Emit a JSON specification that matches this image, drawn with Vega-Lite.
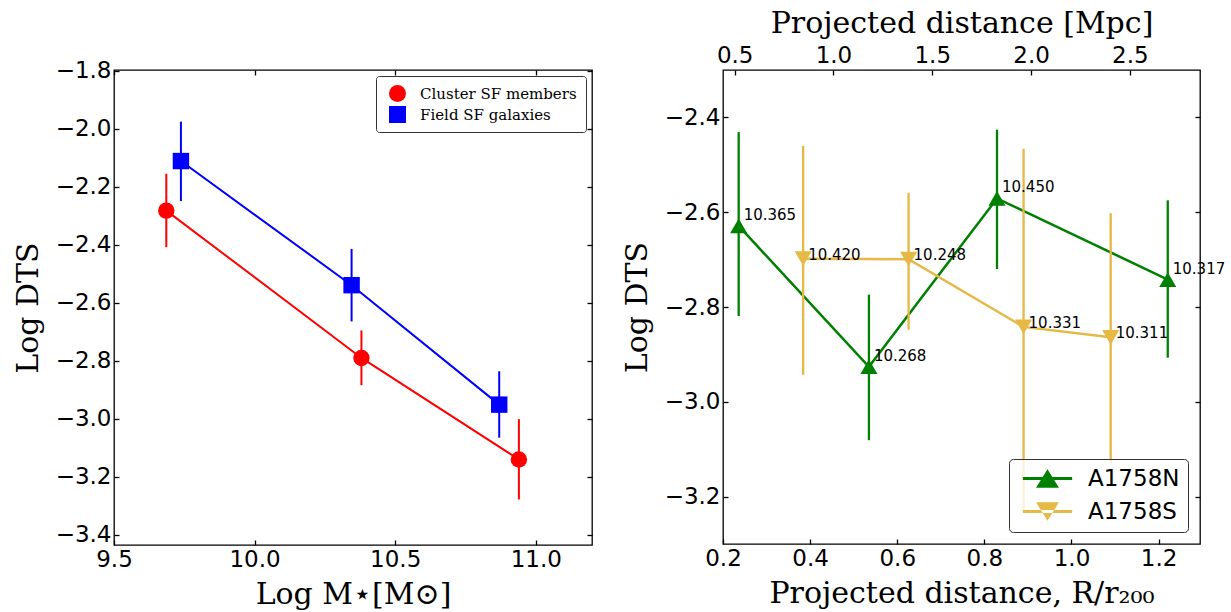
{
  "$schema": "https://vega.github.io/schema/vega-lite/v6.json",
  "background": "white",
  "padding": {"left": 12, "top": 7, "right": 8, "bottom": 3},
  "datasets": {
    "mass": [
      {"series": "Cluster SF members", "mass": 9.686, "dts": -2.282, "lo": -2.408, "hi": -2.155},
      {"series": "Cluster SF members", "mass": 10.38, "dts": -2.79, "lo": -2.884, "hi": -2.695},
      {"series": "Cluster SF members", "mass": 10.94, "dts": -3.14, "lo": -3.278, "hi": -3.001},
      {"series": "Field SF galaxies", "mass": 9.738, "dts": -2.111, "lo": -2.249, "hi": -1.975},
      {"series": "Field SF galaxies", "mass": 10.345, "dts": -2.539, "lo": -2.664, "hi": -2.414},
      {"series": "Field SF galaxies", "mass": 10.87, "dts": -2.951, "lo": -3.065, "hi": -2.836}
    ],
    "radial": [
      {"cluster": "A1758N", "r": 0.236, "dts": -2.629, "lo": -2.819, "hi": -2.431, "label": "10.365"},
      {"cluster": "A1758N", "r": 0.535, "dts": -2.926, "lo": -3.081, "hi": -2.774, "label": "10.268"},
      {"cluster": "A1758N", "r": 0.829, "dts": -2.571, "lo": -2.72, "hi": -2.426, "label": "10.450"},
      {"cluster": "A1758N", "r": 1.221, "dts": -2.742, "lo": -2.907, "hi": -2.575, "label": "10.317"},
      {"cluster": "A1758S", "r": 0.384, "dts": -2.698, "lo": -2.943, "hi": -2.46, "label": "10.420"},
      {"cluster": "A1758S", "r": 0.626, "dts": -2.699, "lo": -2.848, "hi": -2.559, "label": "10.248"},
      {"cluster": "A1758S", "r": 0.89, "dts": -2.842, "lo": -3.23, "hi": -2.466, "label": "10.331"},
      {"cluster": "A1758S", "r": 1.09, "dts": -2.864, "lo": -3.13, "hi": -2.602, "label": "10.311"}
    ],
    "mpcTicks": [
      {"mpc": 0.5}, {"mpc": 1.0}, {"mpc": 1.5}, {"mpc": 2.0}, {"mpc": 2.5}
    ]
  },
  "hconcat": [
    {
      "width": 478,
      "height": 475,
      "data": {"name": "mass"},
      "layer": [
        {
          "mark": {"type": "line", "strokeWidth": 2},
          "encoding": {
            "x": {"field": "mass", "type": "quantitative", "scale": {"domain": [9.5, 11.2], "nice": false, "zero": false},
                  "axis": {"title": "Log M⋆[M⊙]", "values": [9.5, 10.0, 10.5, 11.0], "format": ".1f", "titlePadding": 8}},
            "y": {"field": "dts", "type": "quantitative", "scale": {"domain": [-3.435, -1.797], "nice": false, "zero": false},
                  "axis": {"title": "Log DTS", "values": [-3.4, -3.2, -3.0, -2.8, -2.6, -2.4, -2.2, -2.0, -1.8], "format": ".1f", "titlePadding": 12}},
            "color": {"field": "series", "type": "nominal", "scale": {"domain": ["Cluster SF members", "Field SF galaxies"], "range": ["red", "blue"]},
                      "legend": {"orient": "top-right", "offset": 6, "title": null, "labelFont": "DejaVu Serif", "labelFontSize": 15, "labelColor": "black", "symbolSize": 289, "symbolStrokeWidth": 0, "labelOffset": 14, "rowPadding": 4, "padding": 9, "symbolOffset": 4, "fillColor": "white", "strokeColor": "#333", "cornerRadius": 3}}
          }
        },
        {
          "mark": {"type": "rule", "strokeWidth": 2},
          "encoding": {
            "x": {"field": "mass", "type": "quantitative", "axis": null},
            "y": {"field": "lo", "type": "quantitative", "axis": null},
            "y2": {"field": "hi"},
            "color": {"field": "series", "type": "nominal"}
          }
        },
        {
          "mark": {"type": "point", "filled": true, "opacity": 1, "size": 270},
          "encoding": {
            "x": {"field": "mass", "type": "quantitative", "axis": null},
            "y": {"field": "dts", "type": "quantitative", "axis": null},
            "color": {"field": "series", "type": "nominal"},
            "shape": {"field": "series", "type": "nominal", "scale": {"domain": ["Cluster SF members", "Field SF galaxies"], "range": ["circle", "square"]}}
          }
        },
        {
          "mark": {"type": "point", "opacity": 0},
          "encoding": {
            "x": {"field": "mass", "type": "quantitative", "axis": {"orient": "top", "labels": false, "title": null, "values": [9.5, 10.0, 10.5, 11.0]}},
            "y": {"field": "dts", "type": "quantitative", "axis": {"orient": "right", "labels": false, "title": null, "values": [-3.4, -3.2, -3.0, -2.8, -2.6, -2.4, -2.2, -2.0, -1.8]}}
          }
        }
      ],
      "resolve": {"axis": {"x": "independent", "y": "independent"}}
    },
    {
      "width": 477,
      "height": 474,
      "layer": [
        {
          "data": {"name": "radial"},
          "layer": [
            {
              "mark": {"type": "line", "strokeWidth": 2.5},
              "encoding": {
                "x": {"field": "r", "type": "quantitative", "scale": {"domain": [0.2, 1.295], "nice": false, "zero": false},
                      "axis": {"title": "Projected distance, R/r₂₀₀", "values": [0.2, 0.4, 0.6, 0.8, 1.0, 1.2], "format": ".1f", "titlePadding": 8}},
                "y": {"field": "dts", "type": "quantitative", "scale": {"domain": [-3.3, -2.3], "nice": false, "zero": false},
                      "axis": {"title": "Log DTS", "values": [-3.2, -3.0, -2.8, -2.6, -2.4], "format": ".1f", "titlePadding": 12}},
                "color": {"field": "cluster", "type": "nominal", "scale": {"domain": ["A1758N", "A1758S"], "range": ["green", "#e6b845"]},
                          "legend": {"orient": "bottom-right", "offset": 12, "title": null, "labelFont": "DejaVu Sans", "labelFontSize": 23, "labelColor": "black", "symbolSize": 289, "symbolOpacity": 1, "symbolStrokeWidth": 0, "labelOffset": 29, "rowPadding": 9, "padding": 8, "symbolOffset": 19, "fillColor": "rgba(255,255,255,0.8)", "strokeColor": "#333", "cornerRadius": 4}}
              }
            },
            {
              "mark": {"type": "rule", "strokeWidth": 2.3},
              "encoding": {
                "x": {"field": "r", "type": "quantitative"},
                "y": {"field": "lo", "type": "quantitative", "axis": null},
                "y2": {"field": "hi"},
                "color": {"field": "cluster", "type": "nominal"}
              }
            },
            {
              "mark": {"type": "point", "filled": true, "opacity": 0, "size": 1},
              "encoding": {
                "x": {"field": "r", "type": "quantitative"},
                "y": {"field": "dts", "type": "quantitative", "axis": null},
                "color": {"field": "cluster", "type": "nominal"},
                "shape": {"field": "cluster", "type": "nominal", "scale": {"domain": ["A1758N", "A1758S"], "range": ["M-2.9,-0.17H2.9V0.17H-2.9Z M0,-1.1L1.35,1.1L-1.35,1.1Z", "M-2.9,-0.17H2.9V0.17H-2.9Z M0,1.1L1.35,-1.1L-1.35,-1.1Z"]}}
              }
            },
            {
              "transform": [{"filter": "datum.cluster === 'A1758N'"}],
              "mark": {"type": "point", "filled": true, "opacity": 1, "size": 290, "shape": "triangle-up"},
              "encoding": {
                "x": {"field": "r", "type": "quantitative"},
                "y": {"field": "dts", "type": "quantitative", "axis": null},
                "color": {"field": "cluster", "type": "nominal"}
              }
            },
            {
              "transform": [{"filter": "datum.cluster === 'A1758S'"}],
              "mark": {"type": "point", "filled": true, "opacity": 1, "size": 290, "shape": "triangle-down"},
              "encoding": {
                "x": {"field": "r", "type": "quantitative"},
                "y": {"field": "dts", "type": "quantitative", "axis": null},
                "color": {"field": "cluster", "type": "nominal"}
              }
            },
            {
              "transform": [{"filter": "datum.cluster === 'A1758N'"}],
              "mark": {"type": "text", "align": "left", "baseline": "middle", "dx": 5, "dy": -11, "font": "DejaVu Sans", "fontSize": 15, "color": "black"},
              "encoding": {
                "x": {"field": "r", "type": "quantitative"},
                "y": {"field": "dts", "type": "quantitative", "axis": null},
                "text": {"field": "label"}
              }
            },
            {
              "transform": [{"filter": "datum.cluster === 'A1758S'"}],
              "mark": {"type": "text", "align": "left", "baseline": "middle", "dx": 5, "dy": -4, "font": "DejaVu Sans", "fontSize": 15, "color": "black"},
              "encoding": {
                "x": {"field": "r", "type": "quantitative"},
                "y": {"field": "dts", "type": "quantitative", "axis": null},
                "text": {"field": "label"}
              }
            },
            {
              "mark": {"type": "point", "opacity": 0},
              "encoding": {
                "y": {"field": "dts", "type": "quantitative", "axis": {"orient": "right", "labels": false, "title": null, "values": [-3.2, -3.0, -2.8, -2.6, -2.4]}}
              }
            }
          ],
          "resolve": {"axis": {"y": "independent"}}
        },
        {
          "data": {"name": "mpcTicks"},
          "mark": {"type": "rule", "opacity": 0},
          "encoding": {
            "x": {"field": "mpc", "type": "quantitative", "scale": {"domain": [0.441, 2.855], "nice": false, "zero": false},
                  "axis": {"orient": "top", "title": "Projected distance [Mpc]", "values": [0.5, 1.0, 1.5, 2.0, 2.5], "format": ".1f", "titlePadding": 6}}
          }
        }
      ],
      "resolve": {"scale": {"x": "independent"}, "axis": {"x": "independent"}}
    }
  ],
  "spacing": 131,
  "bounds": "flush",
  "resolve": {"scale": {"color": "independent", "shape": "independent"}, "legend": {"color": "independent", "shape": "independent"}},
  "config": {
    "view": {"stroke": "black", "strokeWidth": 1.3},
    "axis": {"labelFont": "DejaVu Sans", "labelFontSize": 23, "labelColor": "black", "titleFont": "DejaVu Serif", "titleFontSize": 30, "titleFontWeight": "normal", "titleColor": "black", "tickColor": "black", "tickSize": -5, "tickWidth": 1.3, "domain": false, "grid": false, "labelPadding": 8, "labelFlush": false, "labelOverlap": false}
  }
}
